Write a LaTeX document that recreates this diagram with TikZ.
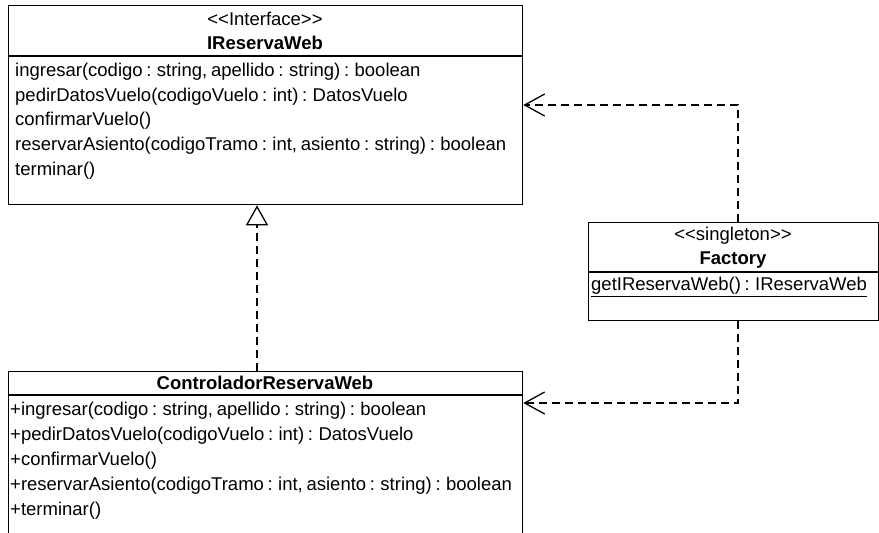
\documentclass[tikz,border=0pt]{standalone}
\usepackage{fontspec}
\setmainfont{Liberation Sans}
\usetikzlibrary{arrows.meta}
\newcommand{\umlfont}{\fontsize{18.5}{20}\selectfont\spaceskip=0.2em plus 0.1em minus 0.05em\relax}
\tikzset{
  box/.style={draw, line width=1.3pt, rectangle, inner sep=0pt, anchor=north west},
  sepline/.style={line width=1.3pt},
  txt/.style={inner sep=0pt, anchor=west, font=\umlfont},
  ctxt/.style={inner sep=0pt, anchor=center, font=\umlfont},
  btxt/.style={inner sep=0pt, anchor=center, font=\umlfont\bfseries},
  dep/.style={line width=1.3pt, dash pattern=on 8pt off 5pt, -{Straight Barb[length=20pt,width=22pt,line width=1.3pt]}},
  realiz/.style={line width=1.3pt, dash pattern=on 8pt off 5pt, -{Triangle[open,length=20pt,width=22pt,line width=1.3pt]}}
}
\begin{document}
\begin{tikzpicture}[x=1pt,y=-1pt]
\useasboundingbox[fill=white] (0,0) rectangle (879,533);
% IReservaWeb
\node[box, minimum width=514pt, minimum height=199pt] (ir) at (8,5) {};
\draw[sepline] (8,56) -- (522,56);
\node[ctxt] (irst) at (265,19) {{<}{<}Interface{>}{>}};
\node[btxt] (irname) at (265,43) {IReservaWeb};
\node[txt] (ir1) at (15,72) {ingresar(codigo : string, apellido : string) : boolean};
\node[txt] (ir2) at (15,97) {pedirDatosVuelo(codigoVuelo : int) : DatosVuelo};
\node[txt] (ir3) at (15,121) {confirmarVuelo()};
\node[txt] (ir4) at (15,146) {reservarAsiento(codigoTramo : int, asiento : string) : boolean};
\node[txt] (ir5) at (15,171) {terminar()};
% ControladorReservaWeb
\node[box, minimum width=514pt, minimum height=180pt] (cr) at (8,371) {};
\draw[sepline] (8,395) -- (522,395);
\node[btxt] (crname) at (265,383) {ControladorReservaWeb};
\node[txt] (cr1) at (10,411) {+ingresar(codigo : string, apellido : string) : boolean};
\node[txt] (cr2) at (10,436) {+pedirDatosVuelo(codigoVuelo : int) : DatosVuelo};
\node[txt] (cr3) at (10,461) {+confirmarVuelo()};
\node[txt] (cr4) at (10,486) {+reservarAsiento(codigoTramo : int, asiento : string) : boolean};
\node[txt] (cr5) at (10,511) {+terminar()};
% Factory
\node[box, minimum width=290pt, minimum height=98pt] (fa) at (588,222) {};
\draw[sepline] (588,272) -- (878,272);
\node[ctxt] (fast) at (733,236) {{<}{<}singleton{>}{>}};
\node[btxt] (faname) at (733,260) {Factory};
\node[txt] (fa1) at (591,287) {\underline{getIReservaWeb() : IReservaWeb}};
% connectors
\coordinate (k1) at (738,105);
\coordinate (k2) at (738,403);
\coordinate (g) at (257,0);
\draw[dep] (fa.north -| k1) -- (k1) -- (ir.east |- k1);
\draw[dep] (fa.south -| k2) -- (k2) -- (cr.east |- k2);
\draw[realiz] (cr.north -| g) -- (ir.south -| g);
\end{tikzpicture}
\end{document}
